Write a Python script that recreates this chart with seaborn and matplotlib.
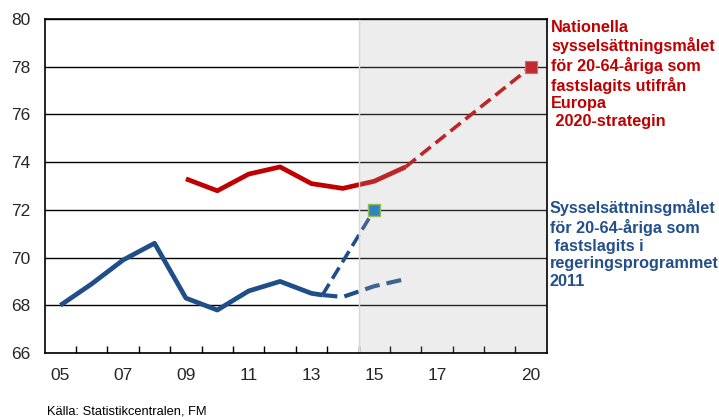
import numpy as np
import pandas as pd
import matplotlib
matplotlib.use("Agg")
import matplotlib.pyplot as plt
import seaborn as sns

# ---------------- data ----------------
blue_years = [2005, 2006, 2007, 2008, 2009, 2010, 2011, 2012, 2013, 2013.35]
blue_vals = [68.0, 68.9, 69.9, 70.6, 68.3, 67.8, 68.6, 69.0, 68.5, 68.43]

blue_fc_years = [2013.35, 2014, 2015, 2016]
blue_fc_vals = [68.43, 68.35, 68.8, 69.1]

blue_goal_years = [2013.35, 2015]
blue_goal_vals = [68.43, 72.0]

red_years = [2009, 2010, 2011, 2012, 2013, 2014, 2015, 2016]
red_vals = [73.3, 72.8, 73.5, 73.8, 73.1, 72.9, 73.2, 73.8]

red_goal_years = [2016, 2020]
red_goal_vals = [73.8, 78.0]

tick_years = [2005, 2007, 2009, 2011, 2013, 2015, 2017, 2020]
tick_labels = ["05", "07", "09", "11", "13", "15", "17", "20"]
y_ticks = [66, 68, 70, 72, 74, 76, 78, 80]

red_text = "Nationella\nsysselsättningsmålet\nför 20-64-åriga som\nfastslagits utifrån\nEuropa\n 2020-strategin"
blue_text = "Sysselsättninsgmålet\nför 20-64-åriga som\n fastslagits i\nregeringsprogrammet\n2011"
source_text = "Källa: Statistikcentralen, FM"

# ---------------- style ----------------
sns.set_style("white")
plt.rcParams["font.family"] = ["Liberation Sans", "DejaVu Sans"]

RED = "#c00000"
BLUE = "#1f4e89"
TEXT_BLUE = "#234f8b"

fig = plt.figure(figsize=(7.19, 4.17), dpi=100)
ax = fig.add_axes([0.0622, 0.1535, 0.7605-0.0622, 0.9544-0.1535])

dash = (0, (3.6, 1.7))
lw = 3.4

sns.lineplot(x=blue_years, y=blue_vals, ax=ax, color=BLUE, lw=lw, zorder=4,
             solid_capstyle="butt")
sns.lineplot(x=blue_fc_years, y=blue_fc_vals, ax=ax, color=BLUE, lw=3.0,
             linestyle=dash, zorder=4)
sns.lineplot(x=blue_goal_years, y=blue_goal_vals, ax=ax, color=BLUE, lw=2.6,
             linestyle=dash, zorder=4)
sns.lineplot(x=red_years, y=red_vals, ax=ax, color=RED, lw=lw, zorder=4,
             solid_capstyle="butt")
sns.lineplot(x=red_goal_years, y=red_goal_vals, ax=ax, color=RED, lw=2.6,
             linestyle=dash, zorder=4)

# shaded forecast period (overlay)
ax.axvspan(2014.5, 2020.5, facecolor="#b0b0b0", alpha=0.22, zorder=5, lw=0)
ax.axvline(2014.5, color="#d8d8d8", lw=1.0, zorder=5)

# goal markers
ax.plot([red_goal_years[-1]], [red_goal_vals[-1]], marker="s", ms=8.5,
        mfc="#c22a30", mec="#d06a6a", mew=0.8, ls="none", zorder=6)
ax.plot([blue_goal_years[-1]], [blue_goal_vals[-1]], marker="s", ms=8,
        mfc="#2e86c1", mec="#9bbb59", mew=1.0, ls="none", zorder=6)

# axes
ax.set_xlim(2004.5, 2020.5)
ax.set_ylim(66, 80)
ax.set_yticks(y_ticks)
ax.set_yticklabels([str(v) for v in y_ticks])
ax.set_xticks(tick_years)
ax.set_xticklabels(tick_labels)
ax.set_xticks(np.arange(2005.5, 2020, 1.0), minor=True)
ax.tick_params(axis="x", which="major", length=0, pad=11, labelsize=12.5)
ax.tick_params(axis="x", which="minor", length=5, width=1, direction="in",
               color="black", bottom=True)
ax.tick_params(axis="y", which="major", length=0, pad=10.5, labelsize=12.5)
ax.set_xlabel("")
ax.set_ylabel("")

ax.yaxis.grid(True, color="black", lw=1.0, zorder=1)
ax.set_axisbelow(True)
for side in ["left", "bottom", "top", "right"]:
    ax.spines[side].set_visible(True)
    ax.spines[side].set_color("black")
    ax.spines[side].set_linewidth(1.2)
    ax.spines[side].set_zorder(7)

fig.text(551 / 719, 1 - 19.5 / 417, red_text, color=RED, fontsize=11.7,
         fontweight="bold", va="top", ha="left", linespacing=1.2)
fig.text(550 / 719, 1 - 199.5 / 417, blue_text, color=TEXT_BLUE, fontsize=11.7,
         fontweight="bold", va="top", ha="left", linespacing=1.2)
fig.text(47 / 719, 1 - 406 / 417, source_text, color="black", fontsize=9.3,
         va="top", ha="left")

fig.savefig("out.png", dpi=100)
